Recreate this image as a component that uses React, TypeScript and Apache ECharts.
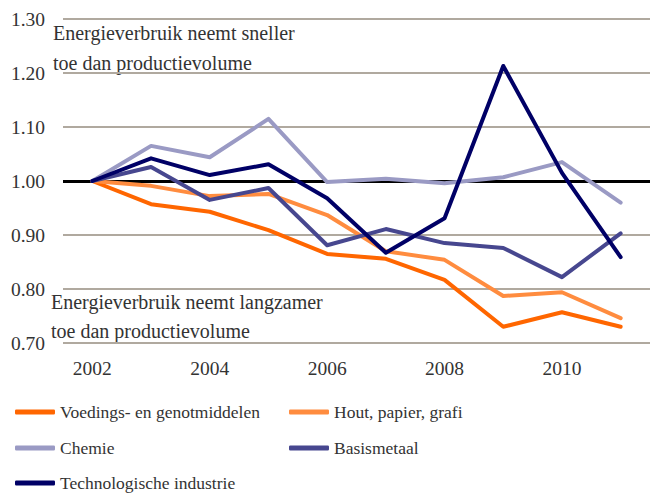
import React, { useEffect, useRef } from "react";
import * as echarts from "echarts";

const years = ["2002", "2003", "2004", "2005", "2006", "2007", "2008", "2009", "2010", "2011"];
const voedings = [1.0, 0.957, 0.943, 0.909, 0.865, 0.856, 0.817, 0.73, 0.757, 0.73];
const hout = [1.0, 0.991, 0.972, 0.976, 0.937, 0.87, 0.854, 0.787, 0.794, 0.746];
const chemie = [1.0, 1.065, 1.044, 1.115, 0.998, 1.004, 0.996, 1.007, 1.035, 0.96];
const basismetaal = [1.0, 1.026, 0.965, 0.987, 0.881, 0.911, 0.885, 0.876, 0.822, 0.903];
const technologisch = [1.0, 1.042, 1.011, 1.031, 0.968, 0.867, 0.931, 1.213, 1.015, 0.859];
const yTicks = { min: 0.7, max: 1.3, interval: 0.1 };

const seriesNames = [
  "Voedings- en genotmiddelen",
  "Hout, papier, grafi",
  "Chemie",
  "Basismetaal",
  "Technologische industrie",
];
const seriesData = [voedings, hout, chemie, basismetaal, technologisch];
const colors = ["#FF6600", "#FF8C3F", "#9A9AC4", "#47478F", "#000066"];

const FONT = "Liberation Serif";

export default function App() {
  const ref = useRef<HTMLDivElement>(null);
  useEffect(() => {
    if (!ref.current) return;
    const chart = echarts.init(ref.current, null, { renderer: "svg" });
    const axisText = { fontFamily: FONT, fontSize: 19.5, color: "#333333" };
    const annFont = `20px '${FONT}'`;
    const legendPos = [
      [10, 398],
      [284, 398],
      [10, 434],
      [284, 434],
      [10, 469],
    ];
    const legends = seriesNames.map((name, i) => ({
      left: legendPos[i][0],
      top: legendPos[i][1],
      itemWidth: 40,
      itemHeight: 5,
      icon: "roundRect",
      data: [name],
      textStyle: { fontFamily: FONT, fontSize: 17.5, color: "#333333", lineHeight: 16 },
    }));
    chart.setOption({
      animation: false,
      textStyle: { fontFamily: FONT },
      grid: { left: 63, right: 1, top: 19, bottom: 152 },
      xAxis: {
        type: "category",
        data: years,
        boundaryGap: true,
        axisLine: { show: false },
        axisTick: { show: false },
        axisLabel: { interval: 1, margin: 15, ...axisText },
      },
      yAxis: {
        type: "value",
        min: yTicks.min,
        max: yTicks.max,
        interval: yTicks.interval,
        axisLine: { show: false },
        axisTick: { show: false },
        axisLabel: {
          margin: 18,
          formatter: (v: number) => v.toFixed(2),
          ...axisText,
        },
        splitLine: { lineStyle: { color: "#b0a99f", width: 2 } },
      },
      legend: legends,
      graphic: [
        { type: "text", left: 53, top: 22.5, style: { text: "Energieverbruik neemt sneller", font: annFont, fill: "#333333" } },
        { type: "text", left: 53, top: 52.5, style: { text: "toe dan productievolume", font: annFont, fill: "#333333" } },
        { type: "text", left: 51, top: 292, style: { text: "Energieverbruik neemt langzamer", font: annFont, fill: "#333333" } },
        { type: "text", left: 51, top: 321, style: { text: "toe dan productievolume", font: annFont, fill: "#333333" } },
      ],
      series: seriesData.map((d, i) => ({
        name: seriesNames[i],
        type: "line",
        data: d,
        symbol: "none",
        color: colors[i],
        lineStyle: { width: 4, color: colors[i], join: "round", cap: "round" },
        z: 2 + i,
        ...(i === 0
          ? {
              markLine: {
                silent: true,
                symbol: "none",
                label: { show: false },
                lineStyle: { color: "#000000", width: 3, type: "solid" },
                data: [{ yAxis: 1 }],
                z: 1,
              },
            }
          : {}),
      })),
    });
    return () => chart.dispose();
  }, []);
  return <div ref={ref} style={{ width: 651, height: 495, position: "absolute", left: 0, top: 0 }} />;
}
